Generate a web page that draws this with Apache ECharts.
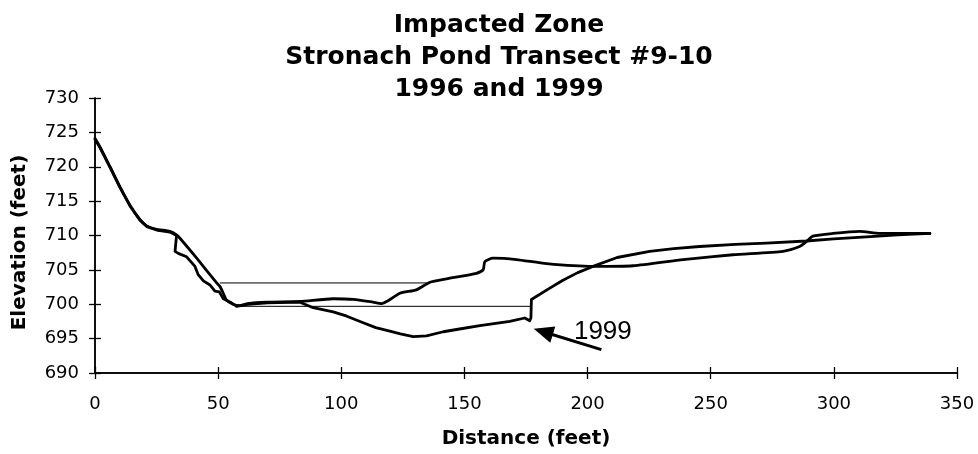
<!DOCTYPE html>
<html><head><meta charset="utf-8">
<script src="https://cdn.jsdelivr.net/npm/echarts@6/dist/echarts.min.js"></script>
<style>html,body{margin:0;padding:0;background:#fff}#c{width:978px;height:454px}</style>
</head><body><div id="c"></div>
<script>
// ---- data ----
var xTicks = [0, 50, 100, 150, 200, 250, 300, 350];
var yTicks = [690, 695, 700, 705, 710, 715, 720, 725, 730];

var dist1996 = [0, 2, 6.1, 10.1, 14.2, 18.3, 21, 25, 30.4, 33.1, 34.5, 41.3, 49.4, 50.7, 52.1, 53.4, 56, 58.8, 62, 69.7, 83.2, 96.7, 105, 112.9, 116.3, 119, 123.8, 130.5, 136, 142.7, 154.9, 157.6, 158.3, 161.6, 171.1, 183.3, 202.2, 218.5, 238.8, 259, 279.3, 286.1, 288.8, 291.5, 299.6, 310.5, 318.6, 339];
var elev1996 = [724.1, 722.9, 720.0, 717.1, 714.4, 712.3, 711.4, 710.9, 710.6, 710.1, 709.6, 706.7, 703.1, 702.6, 701.6, 700.6, 700.0, 699.8, 700.1, 700.3, 700.4, 700.8, 700.7, 700.3, 700.1, 700.5, 701.6, 702.1, 703.2, 703.7, 704.5, 705.0, 706.2, 706.7, 706.5, 705.9, 705.5, 705.6, 706.5, 707.2, 707.7, 708.4, 709.1, 709.9, 710.3, 710.6, 710.3, 710.3];

var dist1999 = [0, 2, 6.1, 10.1, 14.2, 18.3, 21, 25, 30.4, 33.1, 32.5, 33.8, 37.2, 40.6, 41.9, 44, 46.7, 48.7, 50.5, 52.1, 55, 57.5, 62, 70, 83.2, 88.6, 96.7, 102, 108.9, 114, 119.7, 124, 129.2, 134.6, 141.4, 148, 156.3, 168.4, 174.5, 176.5, 177, 177.2, 178, 184, 190, 196, 202.2, 212, 225.2, 235, 245.5, 260, 272.6, 288.8, 300, 313.2, 326, 339];
var elev1999 = [724.0, 722.8, 719.9, 717.0, 714.3, 712.2, 711.3, 710.8, 710.5, 710.0, 707.7, 707.4, 706.9, 705.5, 704.3, 703.4, 702.8, 701.9, 701.8, 700.8, 700.3, 699.7, 700.0, 700.2, 700.3, 699.5, 698.9, 698.3, 697.3, 696.6, 696.1, 695.7, 695.3, 695.4, 696.0, 696.4, 696.9, 697.5, 698.0, 697.6, 698.0, 700.7, 700.8, 702.2, 703.5, 704.6, 705.5, 706.8, 707.7, 708.1, 708.4, 708.7, 708.9, 709.2, 709.5, 709.8, 710.1, 710.3];

var water1996Dist = [50.7, 136];
var water1996Elev = [703.1, 703.1];
var water1999Dist = [57.5, 177];
var water1999Elev = [699.7, 699.7];

var titleLines = ['Impacted Zone', 'Stronach Pond Transect #9-10', '1996 and 1999'];

var arrowTail = [205.6, 693.4];
var arrowHead = [182.0, 696.0];
var labelPos = [206.2, 696.0];
var labelText = '1999';

function zip(a, b) { return a.map(function (v, i) { return [v, b[i]]; }); }

var chart = echarts.init(document.getElementById('c'), null, { renderer: 'canvas' });

var gridBox = { left: 95, right: 21, top: 98, bottom: 81, containLabel: false };
var baseX = { type: 'value', min: 0, max: 350, interval: 50 };
var baseY = { type: 'value', min: 690, max: 730, interval: 5 };
var tickFont = { fontFamily: 'DejaVu Sans', fontSize: 18, color: '#000' };
var titleFont = 'bold 25px "DejaVu Sans"';
var tickLine = { color: '#000', width: 1.3 };

var option = {
  animation: false,
  backgroundColor: '#fff',
  grid: [Object.assign({}, gridBox), Object.assign({}, gridBox)],
  graphic: titleLines.map(function (t, i) {
    return { type: 'text', x: 499, y: 25 + 32 * i,
      style: { text: t, font: titleFont, fill: '#000', align: 'center', verticalAlign: 'middle' } };
  }),
  xAxis: [
    Object.assign({}, baseX, {
      gridIndex: 0, position: 'bottom',
      name: 'Distance (feet)', nameLocation: 'middle', nameGap: 56,
      nameTextStyle: { fontFamily: 'DejaVu Sans', fontWeight: 'bold', fontSize: 20, color: '#000' },
      axisLine: { show: true, onZero: false, lineStyle: { color: '#000', width: 1.5 } },
      axisTick: { show: true, inside: false, length: 6, lineStyle: tickLine },
      axisLabel: Object.assign({ margin: 22 }, tickFont, {
        formatter: function (v) { return xTicks.indexOf(v) >= 0 ? String(v) : ''; }
      }),
      splitLine: { show: false }
    }),
    Object.assign({}, baseX, {
      gridIndex: 1, position: 'bottom',
      axisLine: { show: true, onZero: false, lineStyle: { color: '#000', width: 1.5 } },
      axisTick: { show: true, inside: true, length: 6, lineStyle: tickLine },
      axisLabel: { show: false },
      splitLine: { show: false }
    })
  ],
  yAxis: [
    Object.assign({}, baseY, {
      gridIndex: 0, position: 'left',
      name: 'Elevation (feet)', nameLocation: 'middle', nameGap: 65, nameRotate: 90,
      nameTextStyle: { fontFamily: 'DejaVu Sans', fontWeight: 'bold', fontSize: 20, color: '#000', padding: [0, 14, 0, 0] },
      axisLine: { show: true, onZero: false, lineStyle: { color: '#000', width: 1.5 } },
      axisTick: { show: true, inside: false, length: 6, lineStyle: tickLine },
      axisLabel: Object.assign({ margin: 16 }, tickFont, {
        formatter: function (v) { return yTicks.indexOf(v) >= 0 ? String(v) : ''; }
      }),
      splitLine: { show: false }
    }),
    Object.assign({}, baseY, {
      gridIndex: 1, position: 'left',
      axisLine: { show: true, onZero: false, lineStyle: { color: '#000', width: 1.5 } },
      axisTick: { show: true, inside: true, length: 6, lineStyle: tickLine },
      axisLabel: { show: false },
      splitLine: { show: false }
    })
  ],
  series: [
    {
      name: 'Water 1996', type: 'line', xAxisIndex: 1, yAxisIndex: 1,
      data: zip(water1996Dist, water1996Elev), showSymbol: false, symbol: 'none',
      lineStyle: { color: '#000', width: 1 }
    },
    {
      name: 'Water 1999', type: 'line', xAxisIndex: 0, yAxisIndex: 0,
      data: zip(water1999Dist, water1999Elev), showSymbol: false, symbol: 'none',
      lineStyle: { color: '#000', width: 1 }
    },
    {
      name: '1996', type: 'line', xAxisIndex: 0, yAxisIndex: 0,
      data: zip(dist1996, elev1996), showSymbol: false, symbol: 'none', smooth: 0.2,
      lineStyle: { color: '#000', width: 2.8, join: 'round', cap: 'round' }
    },
    {
      name: '1999', type: 'line', xAxisIndex: 0, yAxisIndex: 0,
      data: zip(dist1999, elev1999), showSymbol: false, symbol: 'none', smooth: false,
      lineStyle: { color: '#000', width: 2.8, join: 'round', cap: 'round' },
      markLine: {
        silent: true, animation: false,
        symbol: ['none', 'triangle'], symbolSize: [17, 20],
        label: { show: false },
        lineStyle: { color: '#000', width: 3, type: 'solid' },
        data: [[{ coord: arrowTail }, { coord: arrowHead }]]
      },
      markPoint: {
        silent: true, animation: false,
        symbol: 'circle', symbolSize: 0,
        label: { show: true, position: 'inside', formatter: labelText, fontFamily: 'Liberation Sans', fontSize: 26, color: '#000' },
        data: [{ coord: labelPos }]
      }
    }
  ]
};
chart.setOption(option);
</script></body></html>
